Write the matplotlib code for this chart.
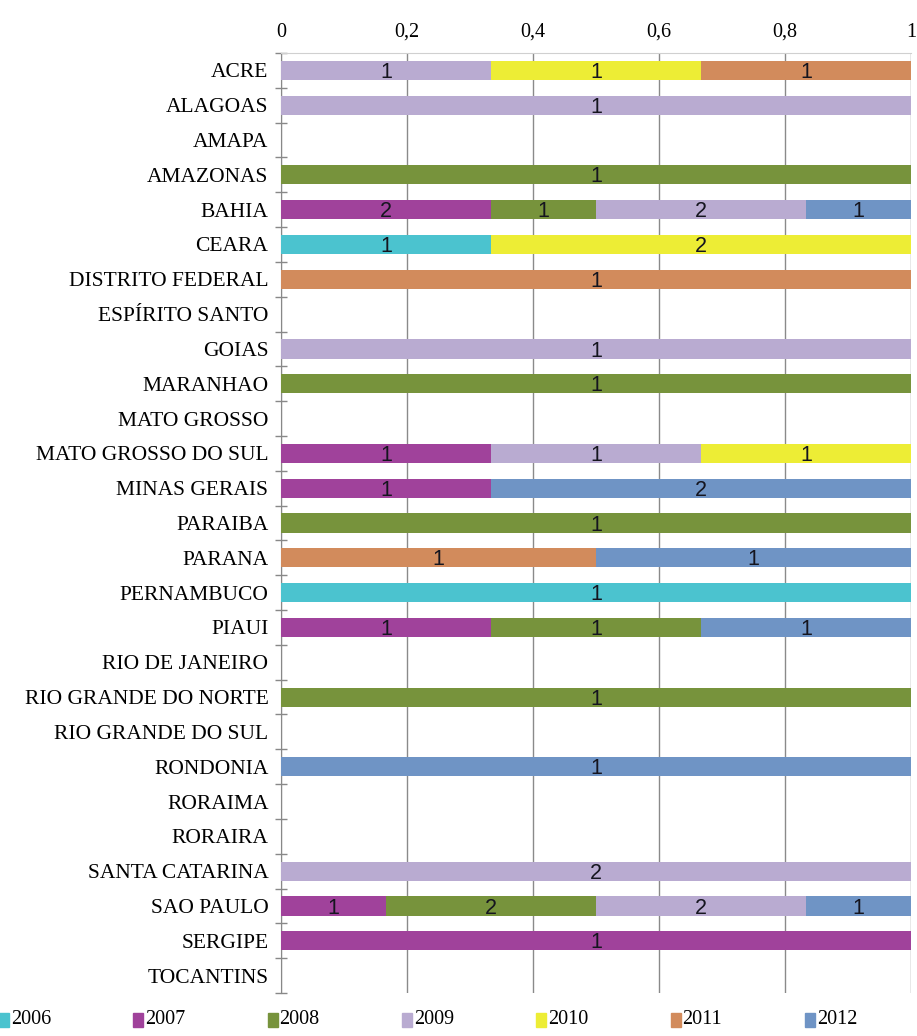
import matplotlib
matplotlib.use("Agg")
import matplotlib.pyplot as plt
from matplotlib.patches import Rectangle
import numpy as np

states = ["ACRE", "ALAGOAS", "AMAPA", "AMAZONAS", "BAHIA", "CEARA",
          "DISTRITO FEDERAL", "ESPÍRITO SANTO", "GOIAS", "MARANHAO",
          "MATO GROSSO", "MATO GROSSO DO SUL", "MINAS GERAIS", "PARAIBA",
          "PARANA", "PERNAMBUCO", "PIAUI", "RIO DE JANEIRO",
          "RIO GRANDE DO NORTE", "RIO GRANDE DO SUL", "RONDONIA",
          "RORAIMA", "RORAIRA", "SANTA CATARINA", "SAO PAULO", "SERGIPE",
          "TOCANTINS"]

years = ["2006", "2007", "2008", "2009", "2010", "2011", "2012"]

y2006 = [0, 0, 0, 0, 0, 1, 0, 0, 0, 0, 0, 0, 0, 0, 0, 1, 0, 0, 0, 0, 0, 0, 0, 0, 0, 0, 0]
y2007 = [0, 0, 0, 0, 2, 0, 0, 0, 0, 0, 0, 1, 1, 0, 0, 0, 1, 0, 0, 0, 0, 0, 0, 0, 1, 1, 0]
y2008 = [0, 0, 0, 1, 1, 0, 0, 0, 0, 1, 0, 0, 0, 1, 0, 0, 1, 0, 1, 0, 0, 0, 0, 0, 2, 0, 0]
y2009 = [1, 1, 0, 0, 2, 0, 0, 0, 1, 0, 0, 1, 0, 0, 0, 0, 0, 0, 0, 0, 0, 0, 0, 2, 2, 0, 0]
y2010 = [1, 0, 0, 0, 0, 2, 0, 0, 0, 0, 0, 1, 0, 0, 0, 0, 0, 0, 0, 0, 0, 0, 0, 0, 0, 0, 0]
y2011 = [1, 0, 0, 0, 0, 0, 1, 0, 0, 0, 0, 0, 0, 0, 1, 0, 0, 0, 0, 0, 0, 0, 0, 0, 0, 0, 0]
y2012 = [0, 0, 0, 0, 1, 0, 0, 0, 0, 0, 0, 0, 2, 0, 1, 0, 1, 0, 0, 0, 1, 0, 0, 0, 1, 0, 0]

colors = ["#4bc3cf", "#a0429b", "#77933c", "#b9abd1", "#eded35", "#d28b5c", "#6f94c5"]

xticks = [0, 0.2, 0.4, 0.6, 0.8, 1]
xticklabels = ["0", "0,2", "0,4", "0,6", "0,8", "1"]

W, H = 917, 1036
fig = plt.figure(figsize=(W / 100, H / 100), dpi=100)
ax = fig.add_axes([281 / W, 1 - 993 / H, (911 - 281) / W, (993 - 53) / H])

series = np.array([y2006, y2007, y2008, y2009, y2010, y2011, y2012], dtype=float)
totals = series.sum(axis=0)
safe = np.where(totals == 0, 1, totals)
frac = series / safe
ypos = np.arange(len(states))
left = np.zeros(len(states))
for k in range(len(years)):
    ax.barh(ypos, frac[k], left=left, height=0.55, color=colors[k], zorder=3)
    for i in range(len(states)):
        if series[k, i] > 0:
            ax.text(left[i] + frac[k, i] / 2, ypos[i] + 0.06, f"{int(series[k, i])}",
                    ha="center", va="center", fontsize=15.5, color="#15151f",
                    family="Liberation Sans", zorder=4)
    left += frac[k]

ax.set_xlim(0, 1)
ax.set_ylim(len(states) - 0.5, -0.5)
ax.xaxis.tick_top()
ax.set_xticks(xticks)
ax.set_xticklabels(xticklabels, family="Liberation Serif", fontsize=14.5)
ax.tick_params(axis="x", length=0, pad=8)
ax.set_yticks(ypos)
ax.set_yticklabels(states, family="Liberation Serif", fontsize=15.5)
ax.tick_params(axis="y", which="major", length=0, pad=9)
ax.set_yticks(np.arange(len(states) + 1) - 0.5, minor=True)
ax.tick_params(axis="y", which="minor", length=8, direction="inout", color="#888888", width=1)
ax.grid(axis="x", color="#8a8a8a", lw=1, zorder=0)
for s in ["right", "bottom"]:
    ax.spines[s].set_visible(False)
ax.spines["left"].set_color("#888888")
ax.spines["top"].set_color("#d0d0d0")

# legend
for k, yr in enumerate(years):
    x0 = -1 + 134.3 * k
    fig.patches.append(Rectangle((x0 / W, 1 - 1027 / H), 10 / W, 14 / H,
                                 transform=fig.transFigure, color=colors[k]))
    fig.text((x0 + 12) / W, 1 - 1020 / H, yr, family="Liberation Serif",
             fontsize=14.5, va="center", ha="left")

fig.savefig("out.png", dpi=100)
